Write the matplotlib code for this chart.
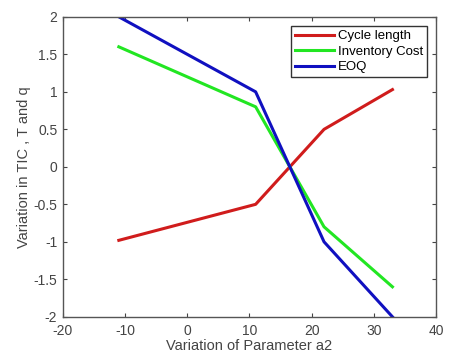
import matplotlib
matplotlib.use("Agg")
import matplotlib.pyplot as plt

# variation of parameter a2 (%)
x_vals = [-11, 11, 22, 33]
cycle_length = [-0.98, -0.5, 0.5, 1.03]
inventory_cost = [1.6, 0.8, -0.8, -1.6]
eoq = [2.0, 1.0, -1.0, -2.0]

plt.rcParams['font.family'] = ['Liberation Sans', 'DejaVu Sans']
plt.rcParams['axes.unicode_minus'] = False

fig = plt.figure(figsize=(4.49, 3.58), dpi=100)
ax = fig.add_axes([0.140, 0.115, 0.831, 0.838])

ax.plot(x_vals, cycle_length, color='#d01c1c', lw=2.2, label='Cycle length')
ax.plot(x_vals, inventory_cost, color='#22e622', lw=2.2, label='Inventory Cost')
ax.plot(x_vals, eoq, color='#1010c0', lw=2.2, label='EOQ')

ax.set_xlim(-20, 40)
ax.set_ylim(-2, 2)
ax.set_xticks([-20, -10, 0, 10, 20, 30, 40])
ax.set_yticks([-2, -1.5, -1, -0.5, 0, 0.5, 1, 1.5, 2])
ax.set_yticklabels(['-2', '-1.5', '-1', '-0.5', '0', '0.5', '1', '1.5', '2'])
ax.tick_params(direction='in', top=True, right=True, length=3, labelsize=10,
               colors='#444444', labelcolor='#444444')
ax.tick_params(axis='y', pad=4)
ax.tick_params(axis='x', pad=5)
for s in ax.spines.values():
    s.set_color('#555555')
    s.set_linewidth(1)

ax.set_xlabel('Variation of Parameter a2', fontsize=10.5, color='#444444', labelpad=1)
ax.set_ylabel('Variation in TIC , T and q', fontsize=10.5, color='#444444', labelpad=2)

leg = ax.legend(loc='upper right', fontsize=9.5, fancybox=False, framealpha=1,
                edgecolor='#333333', borderpad=0.3, labelspacing=0.25,
                handlelength=2.9, handletextpad=0.3, borderaxespad=0.7)
leg.get_frame().set_linewidth(1)

fig.savefig('out.png', dpi=100)
